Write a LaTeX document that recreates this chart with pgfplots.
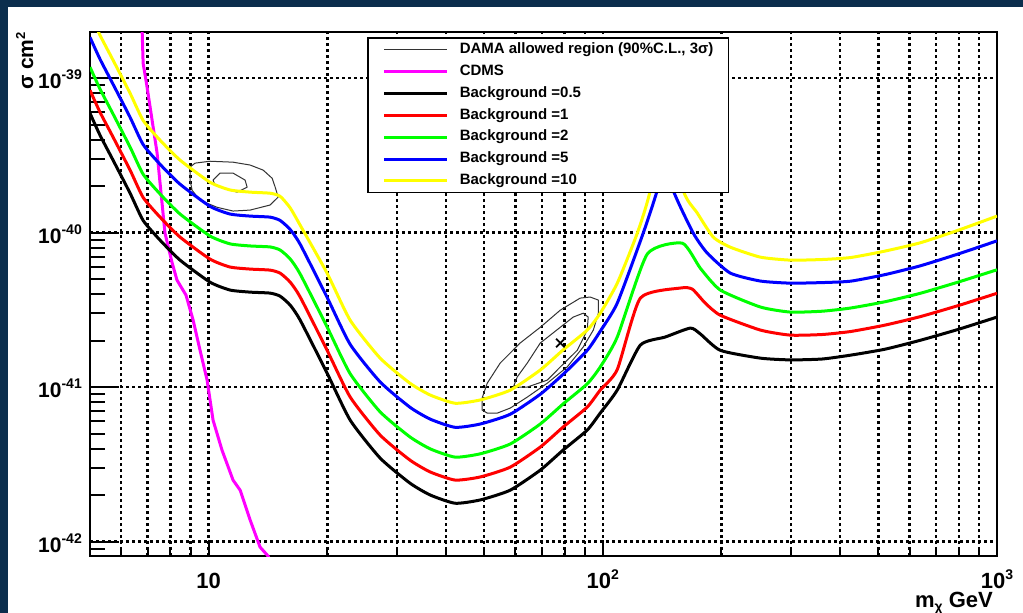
\documentclass[border=0pt]{standalone}
\usepackage{pgfplots}
\pgfplotsset{compat=1.18}
\usepackage{fontspec}
\setmainfont{Liberation Sans}
\definecolor{navy}{RGB}{11,46,77}
\definecolor{cMag}{RGB}{255,0,255}
\definecolor{cRed}{RGB}{255,0,0}
\definecolor{cGreen}{RGB}{0,255,0}
\definecolor{cBlue}{RGB}{0,0,255}
\definecolor{cYellow}{RGB}{255,255,0}
\newcommand{\tpow}[1]{10\raisebox{9pt}{\fontsize{14}{14}\selectfont\bfseries #1}}
\pgfplotsset{
  every major grid/.style={black, line width=2.4pt, dash pattern=on 2.6pt off 3.4pt},
  every minor grid/.style={black, line width=2.4pt, dash pattern=on 2.6pt off 3.4pt},
}
\begin{document}
\begin{tikzpicture}
\fill[navy] (0,0) rectangle (1023pt,613pt);
\fill[white] (8pt,0) rectangle (1023pt,606pt);
% axis 1: x ticks and x grid
\begin{axis}[at={(90pt,57pt)}, anchor=south west, scale only axis,
  width=907pt, height=524pt,
  xmode=log, ymode=log, xmin=5, xmax=1000, ymin=8.05e-43, ymax=1.99e-39,
  axis line style={line width=2pt},
  tick align=inside, xtick pos=bottom, ytick pos=left,
  tick style={line width=2pt, black},
  ytick=\empty,
  xtick={10,100,1000},
  xticklabels={{10},{\tpow{2}},{\tpow{3}}},
  minor xtick={6,7,8,9,20,30,40,50,60,70,80,90,200,300,400,500,600,700,800,900},
  xmajorgrids, xminorgrids,
  major tick length=16pt, minor tick length=9pt,
  xticklabel style={anchor=base, inner sep=0pt, yshift=-32.5pt, font=\fontsize{22}{22}\selectfont\bfseries},
]
\end{axis}
% axis 2: y ticks, data, legend
\begin{axis}[at={(90pt,57pt)}, anchor=south west, scale only axis,
  width=907pt, height=524pt,
  xmode=log, ymode=log, xmin=5, xmax=1000, ymin=8.05e-43, ymax=1.99e-39,
  axis line style={line width=2pt},
  tick align=inside, xtick pos=bottom, ytick pos=left,
  tick style={line width=2pt, black},
  xtick=\empty,
  ytick={1e-42,1e-41,1e-40,1e-39},
  yticklabels={{\tpow{-42}},{\tpow{-41}},{\tpow{-40}},{\tpow{-39}}},
  minor ytick={9e-43,2e-42,3e-42,4e-42,5e-42,6e-42,7e-42,8e-42,9e-42,2e-41,3e-41,4e-41,5e-41,6e-41,7e-41,8e-41,9e-41,2e-40,3e-40,4e-40,5e-40,6e-40,7e-40,8e-40,9e-40},
  ymajorgrids,
  major tick length=29pt, minor tick length=15pt,
  yticklabel style={anchor=base east, inner sep=0pt, xshift=-8pt, yshift=-10.5pt, font=\fontsize{21}{21}\selectfont\bfseries},
  legend style={at={(axis description cs:0.3054,0.9905)}, anchor=north west,
    draw=black, line width=1.5pt, fill=white, inner xsep=15pt, inner ysep=4.5pt,
    font=\fontsize{15}{18}\selectfont\bfseries,
    nodes={inner sep=0pt, text height=11pt, text depth=3.5pt},
    row sep=7.4pt,
    /tikz/every odd column/.append style={column sep=11pt}},
  legend cell align=left,
  legend image code/.code={\draw[#1] (0pt,0pt) -- (63pt,0pt);},
  every axis plot/.append style={line join=round},
]
% DAMA contours
\addplot[black!80, line width=1pt, forget plot] coordinates {
(8.97,2.66e-40) (9.24,2.82e-40) (10.08,2.90e-40) (11.53,2.86e-40) (12.74,2.74e-40) (13.75,2.54e-40) (14.49,2.25e-40) (14.75,1.97e-40) (15.01,1.70e-40) (14.32,1.51e-40) (12.74,1.40e-40) (11.53,1.38e-40) (10.50,1.46e-40) (9.51,1.62e-40) (9.08,1.88e-40) (8.97,2.19e-40) (8.97,2.66e-40)};
\addplot[black!80, line width=1pt, forget plot] coordinates {
(10.26,2.19e-40) (10.69,2.43e-40) (11.53,2.43e-40) (12.37,2.19e-40) (12.52,1.97e-40) (11.81,1.83e-40) (10.88,1.94e-40) (10.38,2.03e-40) (10.26,2.19e-40)};
\addplot[black!80, line width=1pt, forget plot] coordinates {
(49.4,8.49e-42) (49.4,7.10e-42) (50.9,6.79e-42) (54.0,6.79e-42) (58.2,7.31e-42) (64.3,8.61e-42) (72.3,1.06e-41) (81.2,1.35e-41) (89.2,1.82e-41) (94.6,2.34e-41) (97.4,3.01e-41) (97.4,3.66e-41) (92.9,3.83e-41) (87.6,3.77e-41) (78.0,3.15e-41) (69.4,2.44e-41) (61.7,1.93e-41) (54.9,1.43e-41) (50.9,1.06e-41) (49.4,8.49e-42)};
\addplot[black!80, line width=1pt, forget plot] coordinates {
(59.3,1.00e-41) (64.3,1.00e-41) (72.3,1.11e-41) (78.0,1.35e-41) (86.1,1.73e-41) (91.3,2.34e-41) (91.8,2.84e-41) (89.2,3.01e-41) (84.1,2.84e-41) (78.0,2.44e-41) (69.4,1.93e-41) (64.3,1.43e-41) (60.6,1.16e-41) (59.3,1.00e-41)};
\addplot[black, line width=1.8pt, only marks, mark=x, mark size=6pt, forget plot] coordinates {(78.0,1.93e-41)};
\addlegendimage{black!80, line width=1pt}
\addlegendentry{DAMA allowed region (90\%C.L., 3σ)}
% CDMS
\addplot[cMag, line width=3pt] coordinates {
(6.78,2.05e-39) (6.82,1.25e-39) (6.98,8.74e-40) (7.40,3.27e-40) (7.75,9.93e-41) (8.07,6.44e-41) (8.31,4.93e-41) (8.46,4.57e-41) (8.76,3.94e-41) (9.13,2.72e-41) (9.51,1.73e-41) (9.91,1.11e-41) (10.26,6.11e-42) (10.81,3.91e-42) (11.53,2.50e-42) (12.02,2.15e-42) (12.74,1.38e-42) (13.50,9.21e-43) (14.15,8.05e-43) (14.49,6.93e-43)};
\addlegendentry{CDMS}
% Background 0.5
\addplot[black, line width=3pt, smooth, tension=0.35] coordinates {
(5.00,5.93e-40) (5.30,4.28e-40) (5.72,2.95e-40) (6.32,1.80e-40) (6.82,1.20e-40) (7.53,8.94e-41) (8.46,6.64e-41) (10.08,4.78e-41) (11.33,4.25e-41) (12.74,4.12e-41) (14.32,4.06e-41) (15.18,3.88e-41) (16.09,3.40e-41) (17.06,2.72e-41) (19.98,1.23e-41) (22.86,6.11e-42) (27.23,3.47e-42) (32.4,2.39e-42) (36.5,2.00e-42) (42.2,1.77e-42) (48.9,1.86e-42) (58.2,2.15e-42) (69.4,2.90e-42) (79.3,3.91e-42) (91.3,5.27e-42) (98.5,6.79e-42) (108.8,9.57e-42) (124.5,1.87e-41) (144.0,2.11e-41) (166.7,2.41e-41) (176.7,2.21e-41) (198.6,1.73e-41) (251,1.54e-41) (299,1.50e-41) (360,1.52e-41) (425,1.61e-41) (520,1.76e-41) (639,2.01e-41) (800,2.37e-41) (1000,2.84e-41)};
\addlegendentry{Background =0.5}
% Background 1
\addplot[cRed, line width=3pt, smooth, tension=0.35] coordinates {
(5.00,8.36e-40) (5.30,6.03e-40) (5.72,4.16e-40) (6.32,2.54e-40) (6.82,1.69e-40) (7.53,1.26e-40) (8.46,9.36e-41) (10.08,6.74e-41) (11.33,5.99e-41) (12.74,5.81e-41) (14.32,5.72e-41) (15.18,5.47e-41) (16.09,4.79e-41) (17.06,3.84e-41) (19.98,1.73e-41) (22.86,8.62e-42) (27.23,4.89e-42) (32.4,3.37e-42) (36.5,2.82e-42) (42.2,2.50e-42) (48.9,2.62e-42) (58.2,3.03e-42) (69.4,4.09e-42) (79.3,5.51e-42) (91.3,7.43e-42) (98.5,9.57e-42) (108.8,1.30e-41) (124.5,3.77e-41) (157.3,4.38e-41) (168.6,4.31e-41) (181.9,3.50e-41) (198.6,2.92e-41) (251,2.34e-41) (299,2.17e-41) (360,2.19e-41) (425,2.29e-41) (520,2.52e-41) (639,2.86e-41) (800,3.38e-41) (1000,4.05e-41)};
\addlegendentry{Background =1}
% Background 2
\addplot[cGreen, line width=3pt, smooth, tension=0.35] coordinates {
(5.00,1.18e-39) (5.30,8.52e-40) (5.72,5.87e-40) (6.32,3.58e-40) (6.82,2.39e-40) (7.53,1.78e-40) (8.46,1.32e-40) (10.08,9.51e-41) (11.33,8.46e-41) (12.74,8.20e-41) (14.32,8.08e-41) (15.18,7.72e-41) (16.09,6.77e-41) (17.06,5.41e-41) (19.98,2.45e-41) (22.86,1.22e-41) (27.23,6.91e-42) (32.4,4.76e-42) (36.5,3.98e-42) (42.2,3.52e-42) (48.9,3.70e-42) (58.2,4.28e-42) (69.4,5.77e-42) (79.3,7.78e-42) (91.3,1.05e-41) (98.5,1.35e-41) (108.8,2.11e-41) (129.6,7.26e-41) (159.1,8.55e-41) (176.7,5.89e-41) (198.6,4.25e-41) (251,3.30e-41) (299,3.06e-41) (360,3.10e-41) (425,3.25e-41) (520,3.57e-41) (639,4.05e-41) (800,4.80e-41) (1000,5.75e-41)};
\addlegendentry{Background =2}
% Background 5
\addplot[cBlue, line width=3pt, smooth, tension=0.35] coordinates {
(5.00,1.84e-39) (5.30,1.33e-39) (5.72,9.15e-40) (6.32,5.58e-40) (6.82,3.72e-40) (7.53,2.77e-40) (8.46,2.06e-40) (10.08,1.48e-40) (11.33,1.32e-40) (12.74,1.28e-40) (14.32,1.26e-40) (15.18,1.20e-40) (16.09,1.05e-40) (17.06,8.43e-41) (19.98,3.81e-41) (22.86,1.89e-41) (27.23,1.08e-41) (32.4,7.41e-42) (36.5,6.20e-42) (42.2,5.49e-42) (48.9,5.77e-42) (58.2,6.67e-42) (69.4,8.99e-42) (79.3,1.21e-41) (91.3,1.73e-41) (98.5,2.30e-41) (108.8,3.50e-41) (126.6,9.93e-41) (137.4,1.88e-40) (144.9,3.42e-40) (150.9,1.88e-40) (169.6,9.93e-41) (184.1,7.37e-41) (210.6,5.47e-41) (251,4.86e-41) (299,4.71e-41) (360,4.75e-41) (425,4.85e-41) (520,5.35e-41) (639,6.10e-41) (800,7.30e-41) (1000,8.85e-41)};
\addlegendentry{Background =5}
% Background 10
\addplot[cYellow, line width=3pt, smooth, tension=0.35] coordinates {
(5.00,2.63e-39) (5.30,1.90e-39) (5.72,1.31e-39) (6.32,7.99e-40) (6.82,5.33e-40) (7.53,3.97e-40) (8.46,2.95e-40) (10.08,2.12e-40) (11.33,1.89e-40) (12.74,1.83e-40) (14.32,1.80e-40) (15.18,1.72e-40) (16.09,1.45e-40) (17.06,1.12e-40) (19.98,5.46e-41) (22.86,2.71e-41) (27.23,1.54e-41) (32.4,1.06e-41) (36.5,8.88e-42) (42.2,7.86e-42) (48.9,8.26e-42) (58.2,9.55e-42) (69.4,1.29e-41) (79.3,1.74e-41) (91.3,2.34e-41) (98.5,3.01e-41) (108.8,4.71e-41) (122.3,9.93e-41) (131.9,1.88e-40) (144.0,7.21e-40) (160.0,1.88e-40) (173.6,1.34e-40) (190.7,9.35e-41) (210.6,8.05e-41) (251,6.94e-41) (299,6.64e-41) (360,6.70e-41) (425,6.90e-41) (520,7.60e-41) (639,8.60e-41) (800,1.04e-40) (1000,1.28e-40)};
\addlegendentry{Background =10}
\end{axis}
\node[rotate=90, anchor=base east, inner sep=0pt, font=\fontsize{21}{21}\selectfont\bfseries] at (33pt,581pt) {σ cm\raisebox{8pt}{\fontsize{13}{13}\selectfont 2}};
\node[anchor=base east, inner sep=0pt, font=\fontsize{22}{22}\selectfont\bfseries] at (993pt,5pt) {m\raisebox{-4pt}{\fontsize{14}{14}\selectfont χ} GeV};
\pgfresetboundingbox
\path (0,0) rectangle (1023pt,613pt);
\end{tikzpicture}
\end{document}
